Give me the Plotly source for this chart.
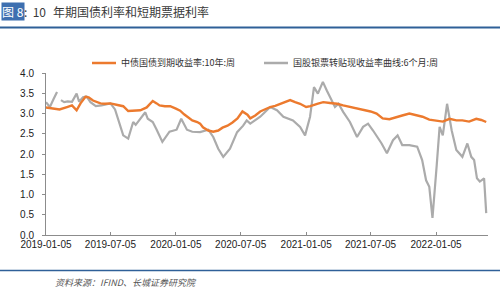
import plotly.graph_objects as go

# ---------------- data ----------------
bond_dates = [
    "2019-01-05", "2019-01-25", "2019-02-12", "2019-03-05", "2019-03-19", "2019-04-01",
    "2019-04-12", "2019-04-26", "2019-05-05", "2019-05-17", "2019-05-28", "2019-06-07",
    "2019-06-20", "2019-07-05", "2019-07-25", "2019-08-10", "2019-08-24", "2019-09-10",
    "2019-09-27", "2019-10-15", "2019-11-01", "2019-11-12", "2019-11-20", "2019-12-05",
    "2019-12-20", "2020-01-05", "2020-01-17", "2020-01-28", "2020-02-08", "2020-02-20",
    "2020-03-05", "2020-03-13", "2020-03-21", "2020-04-05", "2020-04-19", "2020-05-03",
    "2020-05-15", "2020-05-29", "2020-06-12", "2020-06-26", "2020-07-10", "2020-07-24",
    "2020-08-01", "2020-08-15", "2020-08-29", "2020-09-12", "2020-09-26", "2020-10-10",
    "2020-10-24", "2020-11-07", "2020-11-21", "2020-12-05", "2020-12-19", "2021-01-05",
    "2021-01-17", "2021-02-05", "2021-02-22", "2021-03-13", "2021-04-02", "2021-04-19",
    "2021-05-08", "2021-05-28", "2021-06-14", "2021-07-05", "2021-07-22", "2021-08-08",
    "2021-08-27", "2021-09-16", "2021-10-02", "2021-10-22", "2021-11-08", "2021-11-28",
    "2021-12-17", "2022-01-07", "2022-01-24", "2022-02-12", "2022-03-03", "2022-03-20",
    "2022-04-08", "2022-04-28", "2022-05-12", "2022-05-26",
]
bond_yield = [
    3.15, 3.12, 3.10, 3.16, 3.20, 3.08,
    3.25, 3.41, 3.40, 3.32, 3.28, 3.25,
    3.24, 3.25, 3.21, 3.18, 3.06, 3.07,
    3.08, 3.15, 3.31, 3.25, 3.20, 3.18,
    3.18, 3.12, 3.07, 2.98, 2.90, 2.83,
    2.79, 2.75, 2.66, 2.58, 2.55, 2.58,
    2.65, 2.70, 2.78, 2.88, 3.05, 2.97,
    2.88, 2.95, 3.05, 3.10, 3.16, 3.19,
    3.24, 3.28, 3.33, 3.28, 3.24, 3.16,
    3.18, 3.24, 3.28, 3.26, 3.24, 3.20,
    3.16, 3.12, 3.10, 3.05, 3.00, 2.88,
    2.86, 2.92, 2.95, 3.00, 2.96, 2.92,
    2.85, 2.83, 2.80, 2.87, 2.83, 2.83,
    2.80, 2.87, 2.84, 2.79,
]

bill_dates = [
    "2019-01-05", "2019-01-16", "2019-01-26", "2019-02-05", "2019-02-10", "2019-02-16",
    "2019-02-25", "2019-03-07", "2019-03-19", "2019-04-01", "2019-04-08", "2019-04-19",
    "2019-04-29", "2019-05-10", "2019-05-25", "2019-06-10", "2019-06-25", "2019-07-05",
    "2019-07-18", "2019-07-31", "2019-08-10", "2019-08-24", "2019-09-07", "2019-09-14",
    "2019-09-28", "2019-10-11", "2019-10-18", "2019-11-01", "2019-11-12", "2019-11-28",
    "2019-12-18", "2020-01-07", "2020-01-20", "2020-02-05", "2020-02-20", "2020-03-13",
    "2020-04-05", "2020-04-19", "2020-05-03", "2020-05-17", "2020-06-05", "2020-06-25",
    "2020-07-12", "2020-07-22", "2020-08-01", "2020-08-29", "2020-09-26", "2020-10-15",
    "2020-11-02", "2020-11-29", "2020-12-19", "2021-01-02", "2021-01-16", "2021-01-27",
    "2021-02-07", "2021-02-21", "2021-03-04", "2021-03-27", "2021-04-06", "2021-04-19",
    "2021-05-08", "2021-05-28", "2021-06-14", "2021-06-28", "2021-07-12", "2021-08-05",
    "2021-08-20", "2021-09-06", "2021-09-19", "2021-10-02", "2021-10-22", "2021-11-13",
    "2021-11-27", "2021-12-08", "2021-12-17", "2021-12-26", "2022-01-07", "2022-01-15",
    "2022-01-24", "2022-02-05", "2022-02-18", "2022-03-03", "2022-03-20", "2022-04-03",
    "2022-04-14", "2022-04-22", "2022-04-30", "2022-05-08", "2022-05-20", "2022-05-26",
]
bill_yield = [
    3.28, 3.16, 3.35, 3.53, None, 3.33,
    3.28, 3.30, 3.29, 3.49, 3.29, 3.40,
    3.42, 3.28, 3.18, 3.20, 3.22, 3.25,
    3.10, 2.75, 2.46, 2.38, 2.79, 2.72,
    2.87, 3.03, 2.87, 2.79, 2.60, 2.30,
    2.55, 2.60, 2.87, 2.60, 2.55, 2.54,
    2.60, 2.42, 2.13, 1.93, 2.13, 2.54,
    2.70, 2.83, 2.75, 2.92, 3.16, 3.08,
    2.92, 2.83, 2.67, 2.46, 2.92, 3.65,
    3.49, 3.78, 3.57, 3.16, 3.24, 3.04,
    2.79, 2.42, 2.67, 2.75, 2.58, 2.26,
    2.02, 2.34, 2.46, 2.22, 2.22, 2.18,
    1.85, 1.35, 1.19, 0.42, 1.73, 2.67,
    2.46, 3.24, 2.58, 2.10, 1.93, 2.26,
    1.93, 1.85, 1.40, 1.32, 1.40, 0.54,
]

series_names = ["中债国债到期收益率:10年:周", "国股银票转贴现收益率曲线:6个月:周"]
tick_dates = ["2019-01-05", "2019-07-05", "2020-01-05", "2020-07-05",
              "2021-01-05", "2021-07-05", "2022-01-05"]
y_ticks = [0.0, 0.5, 1.0, 1.5, 2.0, 2.5, 3.0, 3.5, 4.0]
title_tag = "图\u00a08"
title_mid = ":\u00a0\u00a010"
title_rest = "年期国债利率和短期票据利率"
source_text = "资料来源：IFIND、长城证券研究院"

# ---------------- layout geometry (pixels) ----------------
W, H = 500, 289
L, R, T, B = 46, 488, 73, 235

def px(x):
    return (x - L) / (R - L)

def py(y):
    return (B - y) / (B - T)

ORANGE = "#EC7A2E"
GRAY = "#ABABAB"
BLUE = "#2F6098"
CJK = "Noto Sans CJK SC"
LAT = "Liberation Sans"

fig = go.Figure()
fig.add_trace(go.Scatter(x=bill_dates, y=bill_yield, mode="lines", name=series_names[1],
                         line=dict(color=GRAY, width=2.2), connectgaps=False, showlegend=False))
fig.add_trace(go.Scatter(x=bond_dates, y=bond_yield, mode="lines", name=series_names[0],
                         line=dict(color=ORANGE, width=2.4), showlegend=False))

fig.update_layout(
    width=W, height=H,
    margin=dict(l=L, r=W - R, t=T, b=H - B, pad=0),
    paper_bgcolor="white", plot_bgcolor="white",
    font=dict(family=LAT, size=10, color="#222222"),
    xaxis=dict(
        type="date", range=["2019-01-05", "2022-05-31"],
        tickvals=tick_dates, ticktext=tick_dates,
        showgrid=False, zeroline=False,
        showline=True, linecolor="#8C8C8C", linewidth=1,
        ticks="inside", ticklen=3, tickcolor="#8C8C8C",
        tickfont=dict(family=LAT, size=10, color="#222222"),
    ),
    yaxis=dict(
        range=[0, 4], tickvals=y_ticks, ticktext=[f"{v:.1f}" for v in y_ticks],
        showgrid=False, zeroline=False,
        showline=True, linecolor="#8C8C8C", linewidth=1,
        ticks="outside", ticklen=3, tickcolor="#8C8C8C",
        ticklabelstandoff=6,
        tickfont=dict(family=LAT, size=10, color="#222222"),
    ),
)

shapes = []
annotations = []

# legend (manual)
leg_y = 63
for (x0, x1, tx, name, col) in [(92, 116, 118.5, series_names[0], ORANGE),
                                (264, 288, 290.5, series_names[1], GRAY)]:
    shapes.append(dict(type="line", xref="paper", yref="paper",
                       x0=px(x0), x1=px(x1), y0=py(leg_y), y1=py(leg_y),
                       line=dict(color=col, width=2.5)))
    annotations.append(dict(xref="paper", yref="paper", x=px(tx), y=py(leg_y),
                            xanchor="left", yanchor="middle", showarrow=False,
                            text=name, font=dict(family=CJK, size=9, color="#333333")))

# title
title_y = 11.5
annotations.append(dict(xref="paper", yref="paper", x=px(0.5), y=py(title_y),
                        xanchor="left", yanchor="middle", showarrow=False,
                        text=title_tag, bgcolor="#3D6FB0", borderpad=0,
                        font=dict(family=CJK, size=12, color="white")))
annotations.append(dict(xref="paper", yref="paper", x=px(21.5), y=py(title_y),
                        xanchor="left", yanchor="middle", showarrow=False,
                        text=title_mid, font=dict(family=CJK, size=12, color="#3A3A3A")))
annotations.append(dict(xref="paper", yref="paper", x=px(51), y=py(title_y),
                        xanchor="left", yanchor="middle", showarrow=False,
                        text=title_rest, font=dict(family=CJK, size=12, color="#3A3A3A")))
shapes.append(dict(type="line", xref="paper", yref="paper", x0=px(0), x1=px(W),
                   y0=py(27.5), y1=py(27.5), line=dict(color=BLUE, width=2)))

# bottom rule + source
shapes.append(dict(type="line", xref="paper", yref="paper", x0=px(0), x1=px(W),
                   y0=py(270.5), y1=py(270.5), line=dict(color=BLUE, width=1.5)))
annotations.append(dict(xref="paper", yref="paper", x=px(53), y=py(282),
                        xanchor="left", yanchor="middle", showarrow=False,
                        text=source_text,
                        font=dict(family=CJK, size=9, color="#555555", style="italic")))

fig.update_layout(shapes=shapes, annotations=annotations)
fig.write_html("out.html")
